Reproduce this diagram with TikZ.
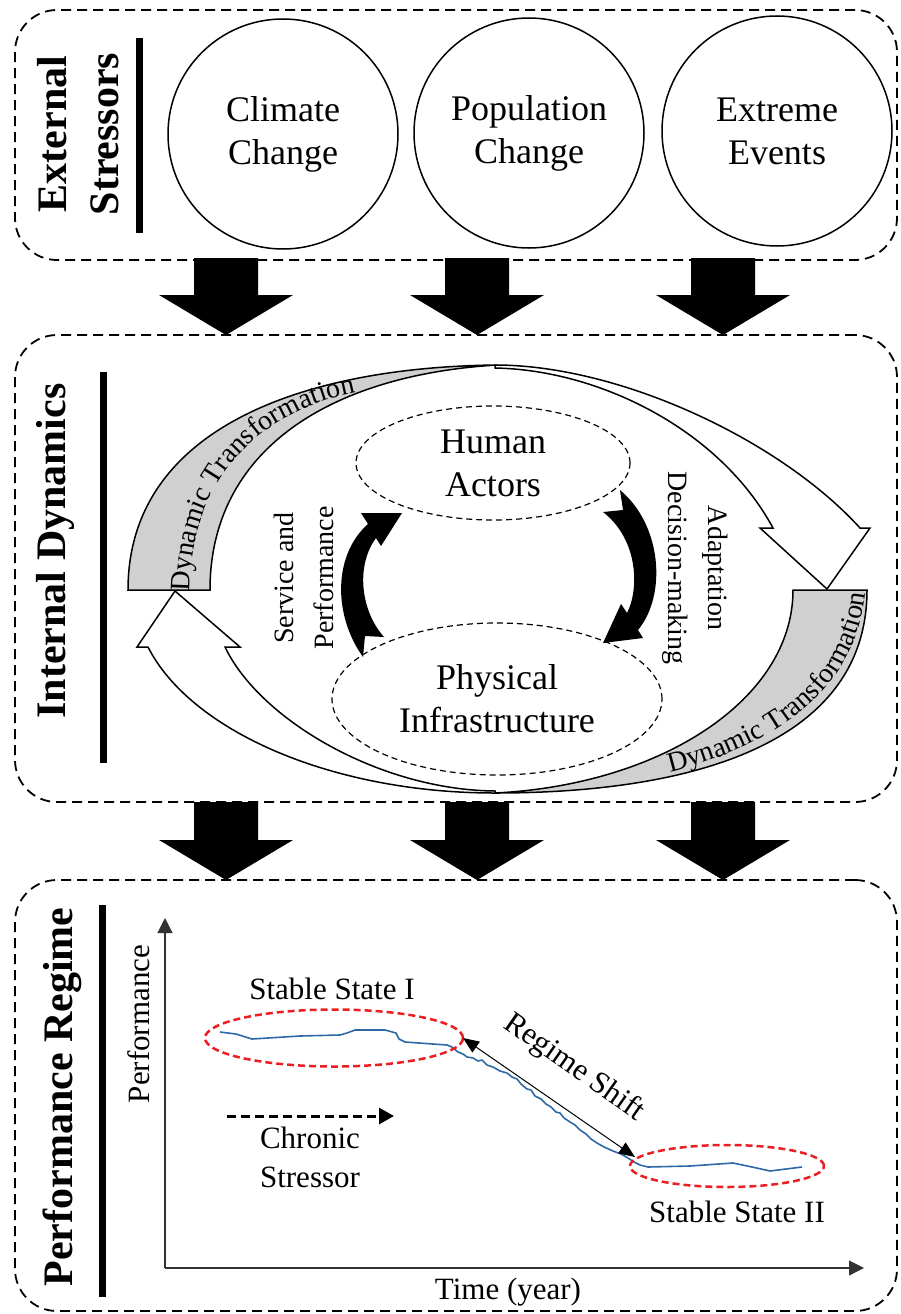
\documentclass[tikz,border=0pt]{standalone}
\usepackage{fontspec}
\setmainfont{Liberation Serif}
\usetikzlibrary{shapes.geometric,arrows.meta,decorations.text}
\definecolor{bandgray}{RGB}{208,208,208}
\definecolor{stateRed}{RGB}{235,30,35}
\definecolor{perfBlue}{RGB}{46,104,166}
\newcommand\fcirc{\fontsize{36}{43}\selectfont}
\newcommand\fhead{\fontsize{42}{52}\selectfont\bfseries}
\newcommand\flab{\fontsize{28}{40}\selectfont}
\newcommand\fband{\fontsize{28}{34}\selectfont}
\newcommand\fchart{\fontsize{31}{39}\selectfont}
\newcommand\blockarrow[4]{\fill (#1-32,#2) -- (#1+32,#2) -- (#1+32,#3) -- (#1+67,#3) -- (#1,#4) -- (#1-67,#3) -- (#1-32,#3) -- cycle;}
\begin{document}
\begin{tikzpicture}[x=1pt,y=-1pt,
  panel/.style={draw, dash pattern=on 10pt off 6pt, line width=1.8pt, rounded corners=42pt, inner sep=0pt, minimum width=882pt},
  headlbl/.style={font=\fhead, align=center, inner sep=0pt},
  bar/.style={line width=7pt},
  stressor/.style={circle, draw, line width=1.5pt, minimum size=230pt, inner sep=0pt, align=center, font=\fcirc},
  actor/.style={ellipse, draw, dash pattern=on 6pt off 4pt, line width=1.2pt, inner sep=0pt, align=center, font=\fcirc},
  whitearrow/.style={draw, fill=white, line width=1.5pt, line join=miter},
  grayband/.style={draw, fill=bandgray, line width=1.5pt, line join=miter},
  redstate/.style={ellipse, draw=stateRed, dash pattern=on 7pt off 4pt, line width=2.5pt, inner sep=0pt},
  axis/.style={line width=1.2pt, draw=black!80, -{Triangle[length=15pt,width=15pt]}},
  lbl/.style={inner sep=0pt}
]
\useasboundingbox (0,0) rectangle (901,1314);

% panels
\node[panel, minimum height=250pt] (toppanel) at (456,135) {};
\node[panel, minimum height=467pt] (midpanel) at (456,568.5) {};
\node[panel, minimum height=431pt] (botpanel) at (456,1095.5) {};

% headings
\node[headlbl, rotate=90] (extlbl) at (78,134) {External\\Stressors};
\node[headlbl, rotate=90] (intlbl) at (55,551) {Internal Dynamics};
\node[headlbl, rotate=90] (perflbl) at (62,1097) {Performance Regime};
\draw[bar] (139,38) -- (139,233);
\draw[bar] (103,372) -- (103,763);
\draw[bar] (102,905) -- (102,1297);

% stressors
\node[stressor] (climate) at (283,134) {Climate\\Change};
\node[stressor] (population) at (529,133) {Population\\Change};
\node[stressor] (extreme) at (777,131) {Extreme\\Events};

% block arrows
\blockarrow{226}{258}{295}{335}
\blockarrow{477}{258}{295}{335}
\blockarrow{723}{258}{295}{335}
\blockarrow{226}{802}{840}{880}
\blockarrow{477}{802}{840}{880}
\blockarrow{723}{802}{840}{880}

% internal dynamics: white arrows
\path[whitearrow] (495,365) .. controls (620,365) and (780,440) .. (860,528) -- (870,528) -- (827,589) -- (760,528) -- (773,528) .. controls (720,430) and (600,370) .. (495,368) -- cycle;
\path[whitearrow] (495,793) .. controls (330,793) and (190,730) .. (148,647) -- (137,647) -- (175,591) -- (240,647) -- (225,647) .. controls (260,720) and (380,790) .. (495,791) -- cycle;
% gray bands
\path[grayband] (128,590) .. controls (128,430) and (300,367) .. (497,365) .. controls (330,375) and (210,450) .. (210,590) -- cycle;
\path[grayband] (793,590) -- (867,590) .. controls (867,740) and (700,793) .. (495,793) .. controls (660,785) and (793,700) .. (793,590) -- cycle;
\path[decorate, decoration={text along path, text={|\fband|Dynamic Transformation}, text align=left}] (190,592) .. controls (190,470) and (270,398) .. (390,388);
\path[decorate, decoration={text along path, text={|\fband|Dynamic Transformation}, text align=left}] (670,772) .. controls (790,742) and (866,680) .. (867,570);

% actors
\node[actor, minimum width=274pt, minimum height=114pt] (human) at (493,463) {Human\\Actors};
\node[actor, minimum width=330pt, minimum height=152pt] (physical) at (497,699) {Physical\\Infrastructure};

% black curved arrows
\fill (363,657) .. controls (333,615) and (333,555) .. (368,524) -- (361,513) -- (402,513) -- (381,546) -- (376,538) .. controls (356,565) and (360,610) .. (384,637) -- (365,636) -- cycle;
\fill (620,490) .. controls (662,525) and (667,595) .. (638,630) -- (643,638) -- (603,643) -- (621,604) -- (627,613) .. controls (639,590) and (639,540) .. (603,512) -- (623,510) -- cycle;

\node[lbl, rotate=90, align=center, font=\flab] (service) at (304,578) {Service and\\Performance};
\node[lbl, rotate=-90, align=center, font=\flab] (adapt) at (695,568) {Adaptation\\Decision-making};

% chart
\coordinate (origin) at (165,1268);
\coordinate (ytip) at (165,918);
\coordinate (xtip) at (864,1268);
\draw[axis] (origin) -- (ytip);
\draw[axis] (origin) -- (xtip);
\node[lbl, font=\fchart, rotate=90] (ylbl) at (139,1024) {Performance};
\node[lbl, font=\fchart] (xlbl) at (508,1292) {Time (year)};

\draw[perfBlue, line width=1.6pt, line join=round] (220,1032) -- (236,1034) -- (252,1039) -- (300,1036) -- (340,1035) -- (347,1033) -- (355,1030) -- (385,1030) -- (396,1033) -- (399,1039) -- (405,1042) -- (447,1045) -- (452,1047) -- (458,1052) -- (463,1054) -- (467,1057) -- (473,1058) -- (478,1061) -- (482,1060) -- (487,1065) -- (493,1067) -- (500,1071) -- (507,1073) -- (512,1077) -- (517,1079) -- (521,1084) -- (527,1089) -- (531,1090) -- (535,1096) -- (541,1099) -- (546,1104) -- (551,1107) -- (556,1112) -- (560,1113) -- (564,1118) -- (570,1122) -- (575,1125) -- (580,1130) -- (586,1134) -- (591,1139) -- (597,1143) -- (604,1147) -- (613,1151) -- (621,1154) -- (628,1158) -- (634,1162) -- (640,1165) -- (648,1167) -- (690,1166) -- (733,1163) -- (752,1167) -- (770,1171) -- (786,1169) -- (802,1167);

\node[redstate, minimum width=258pt, minimum height=57pt] (ss1) at (334,1038) {};
\node[redstate, minimum width=194pt, minimum height=42pt] (ss2) at (727,1166) {};
\node[lbl, font=\fchart] (ss1lbl) at (332,989) {Stable State I};
\node[lbl, font=\fchart] (ss2lbl) at (737,1212) {Stable State II};

\coordinate (rsA) at (463,1038);
\coordinate (rsB) at (635,1157);
\draw[line width=1pt, {Triangle[length=16pt,width=13pt]}-{Triangle[length=16pt,width=13pt]}] (rsA) -- (rsB);
\node[lbl, font=\fchart, rotate=-35] (rslbl) at (574,1068) {Regime Shift};

\coordinate (chA) at (227,1116);
\coordinate (chB) at (394,1116);
\draw[line width=3pt, dash pattern=on 9pt off 5pt, -{Triangle[length=15pt,width=16pt]}] (chA) -- (chB);
\node[lbl, font=\fchart, align=center] (chronic) at (310,1157) {Chronic\\Stressor};
\end{tikzpicture}
\end{document}
